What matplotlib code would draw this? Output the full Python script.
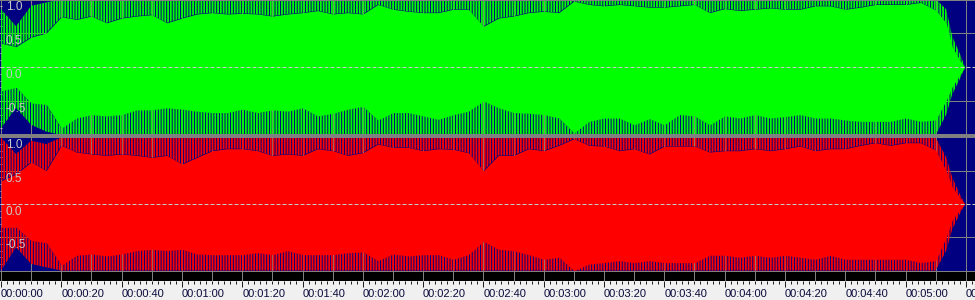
import matplotlib
matplotlib.use("Agg")
import matplotlib.pyplot as plt
from matplotlib.ticker import MultipleLocator, FixedLocator, NullFormatter

plt.rcParams["font.family"] = ["Liberation Sans", "DejaVu Sans"]
plt.rcParams["hatch.linewidth"] = 1.3

# sample times of the envelope readings (seconds)
TIME_S = list(range(0, 315, 5)) + [313.5, 315.5, 318, 319.7]

# left channel (green): solid body of the waveform
GREEN_HI = [0.35, 0.30, 0.44, 0.50, 0.74, 0.70, 0.75, 0.65, 0.72, 0.75,
            0.77, 0.65, 0.72, 0.78, 0.80, 0.78, 0.79, 0.78, 0.75, 0.78,
            0.80, 0.83, 0.78, 0.80, 0.78, 0.92, 0.85, 0.82, 0.80, 0.80,
            0.85, 0.85, 0.60, 0.72, 0.75, 0.80, 0.82, 0.80, 0.97, 0.92,
            0.90, 0.92, 0.90, 0.88, 0.88, 0.90, 0.92, 0.80, 0.86, 0.83,
            0.85, 0.87, 0.85, 0.85, 0.90, 0.90, 0.85, 0.88, 0.92, 0.92,
            0.92, 0.95, 0.84, 0.65, 0.30, 0.10, 0.0]
GREEN_LO = [-0.35, -0.30, -0.53, -0.55, -0.90, -0.75, -0.70, -0.72, -0.70, -0.63,
            -0.63, -0.60, -0.62, -0.65, -0.67, -0.67, -0.62, -0.67, -0.63, -0.65,
            -0.60, -0.72, -0.68, -0.62, -0.58, -0.78, -0.67, -0.67, -0.72, -0.77,
            -0.70, -0.65, -0.50, -0.60, -0.67, -0.68, -0.70, -0.75, -0.97, -0.80,
            -0.75, -0.75, -0.85, -0.76, -0.85, -0.70, -0.72, -0.85, -0.72, -0.75,
            -0.70, -0.75, -0.73, -0.70, -0.75, -0.75, -0.78, -0.80, -0.80, -0.80,
            -0.75, -0.80, -0.78, -0.49, -0.29, -0.12, 0.0]
# peaks reached by the spikes (clipped at +-1 for most of the track)
GREEN_PEAK_HI = [0.85, 0.60, 0.90, 0.95] + [1.0] * 59 + [0.85, 0.45, 0.20, 0.0]
GREEN_PEAK_LO = [-0.90, -0.60, -0.85, -0.95] + [-1.0] * 59 + [-0.70, -0.40, -0.18, 0.0]

# right channel (red)
RED_HI = [0.35, 0.45, 0.63, 0.50, 0.88, 0.78, 0.75, 0.73, 0.75, 0.73,
          0.70, 0.73, 0.60, 0.70, 0.80, 0.83, 0.83, 0.80, 0.73, 0.75,
          0.73, 0.83, 0.80, 0.73, 0.77, 0.90, 0.85, 0.85, 0.80, 0.83,
          0.82, 0.77, 0.50, 0.73, 0.73, 0.83, 0.80, 0.88, 0.98, 0.88,
          0.87, 0.80, 0.83, 0.75, 0.87, 0.87, 0.87, 0.78, 0.80, 0.80,
          0.83, 0.80, 0.83, 0.87, 0.80, 0.83, 0.83, 0.88, 0.92, 0.88,
          0.92, 0.92, 0.81, 0.50, 0.26, 0.10, 0.0]
RED_LO = [-0.35, -0.35, -0.55, -0.58, -0.92, -0.77, -0.75, -0.78, -0.75, -0.70,
          -0.68, -0.70, -0.68, -0.75, -0.76, -0.76, -0.76, -0.73, -0.76, -0.70,
          -0.76, -0.76, -0.76, -0.73, -0.72, -0.85, -0.75, -0.78, -0.76, -0.76,
          -0.83, -0.76, -0.56, -0.68, -0.70, -0.76, -0.83, -0.80, -1.00, -0.90,
          -0.88, -0.85, -0.88, -0.85, -0.88, -0.88, -0.88, -0.77, -0.77, -0.80,
          -0.77, -0.80, -0.77, -0.80, -0.83, -0.77, -0.83, -0.83, -0.83, -0.83,
          -0.83, -0.88, -0.85, -0.50, -0.24, -0.09, 0.0]
RED_PEAK_HI = [1.0, 0.75, 0.95, 0.90] + [1.0] * 59 + [0.70, 0.40, 0.15, 0.0]
RED_PEAK_LO = [-1.0, -0.65, -0.90, -0.95] + [-1.0] * 59 + [-0.70, -0.38, -0.15, 0.0]

LEVEL_LABELS = ["1.0", "0.5", "0.0", "-0.5"]
LEVEL_VALUES = [1.0, 0.5, 0.0, -0.5]

LABEL_TIMES_S = [0, 20, 40, 60, 80, 100, 120, 140, 160, 180, 200, 220,
                 240, 260, 280, 300, 320]
TIME_LABELS = ["00:00:00", "00:00:20", "00:00:40", "00:01:00", "00:01:20",
               "00:01:40", "00:02:00", "00:02:20", "00:02:40", "00:03:00",
               "00:03:20", "00:03:40", "00:04:00", "00:04:20", "00:04:40",
               "00:05:00", "00:05:20"]

W, H = 975, 300
PX = 72 / 100  # points per pixel
NAVY = "#000080"
GRID = "#808080"
XLIM = (-1 / 3.015, 974 / 3.015)


def rect(top, bottom):
    return [0, 1 - bottom / H, 1, (bottom - top) / H]


def wave_panel(fig, top, bottom, ylim, hi, lo, peak_hi, peak_lo, color):
    ax = fig.add_axes(rect(top, bottom))
    ax.set_facecolor(NAVY)
    ax.set_xlim(*XLIM)
    ax.set_ylim(*ylim)
    for s in ax.spines.values():
        s.set_visible(False)
    ax.xaxis.set_major_locator(MultipleLocator(10))
    ax.xaxis.set_major_formatter(NullFormatter())
    ax.set_yticks([-0.5, 0.5])
    ax.yaxis.set_major_formatter(NullFormatter())
    ax.yaxis.set_minor_locator(MultipleLocator(0.1))
    ax.tick_params(axis="x", length=0)
    ax.tick_params(axis="y", which="both", direction="in", length=1.6,
                   width=PX, color="#c0c0c0", pad=0)
    ax.grid(True, which="major", color=GRID, lw=PX)
    ax.set_axisbelow(True)
    # spiky fringe between the solid body and the peaks
    ax.fill_between(TIME_S, hi, peak_hi, facecolor="none", edgecolor=color,
                    hatch="||||||", lw=0, zorder=2)
    ax.fill_between(TIME_S, peak_lo, lo, facecolor="none", edgecolor=color,
                    hatch="||||||", lw=0, zorder=2)
    ax.fill_between(TIME_S, lo, hi, color=color, lw=0, zorder=2)
    ax.axhline(0, color="#c8c8c8", lw=PX, ls=(0, (4, 2)), zorder=3)
    for lbl, v in zip(LEVEL_LABELS, LEVEL_VALUES):
        ax.annotate(lbl, xy=(0, v), xycoords=("axes fraction", "data"),
                    xytext=(6 * PX, -2 * PX), textcoords="offset points",
                    ha="left", va="top", fontsize=8.5, color="#c8c8c8",
                    annotation_clip=False, zorder=4)
    return ax


def main():
    fig = plt.figure(figsize=(W / 100, H / 100), dpi=100)
    fig.patch.set_facecolor(GRID)

    wave_panel(fig, 1, 133.5, (-0.978, 0.971), GREEN_HI, GREEN_LO,
               GREEN_PEAK_HI, GREEN_PEAK_LO, "#00ff00")
    wave_panel(fig, 137.5, 270.5, (-0.998, 0.998), RED_HI, RED_LO,
               RED_PEAK_HI, RED_PEAK_LO, "#ff0000")

    # thin white rule under the bottom panel
    ax_w = fig.add_axes(rect(270.5, 272))
    ax_w.set_facecolor("#f4f4f4")
    ax_w.axis("off")
    ax_w.patch.set_visible(True)

    # black band with the time grid
    ax_b = fig.add_axes(rect(272, 281))
    ax_b.set_facecolor("black")
    ax_b.set_xlim(*XLIM)
    for s in ax_b.spines.values():
        s.set_visible(False)
    ax_b.xaxis.set_major_locator(MultipleLocator(10))
    ax_b.xaxis.set_major_formatter(NullFormatter())
    ax_b.set_yticks([])
    ax_b.tick_params(axis="x", length=0)
    ax_b.grid(True, axis="x", color=GRID, lw=PX)

    # time ruler
    ax_r = fig.add_axes(rect(281, 300))
    ax_r.set_facecolor("#f0f0f0")
    ax_r.set_xlim(*XLIM)
    ax_r.set_ylim(0, 1)
    for s in ax_r.spines.values():
        s.set_visible(False)
    ax_r.set_yticks([])
    ax_r.xaxis.set_ticks_position("top")
    ax_r.xaxis.set_major_locator(FixedLocator(LABEL_TIMES_S))
    ax_r.xaxis.set_minor_locator(MultipleLocator(2))
    ax_r.xaxis.set_major_formatter(NullFormatter())
    ax_r.tick_params(axis="x", which="major", direction="in", length=6 * PX,
                     width=PX, color="#202020")
    ax_r.tick_params(axis="x", which="minor", direction="in", length=3 * PX,
                     width=PX, color="#202020")
    for t, lbl in zip(LABEL_TIMES_S, TIME_LABELS):
        ax_r.text(t, 3 / 19, lbl, ha="left", va="baseline", fontsize=8,
                  color="#0a0a3c", clip_on=False)

    fig.savefig("out.png", dpi=100, facecolor=fig.get_facecolor())
    plt.close(fig)


if __name__ == "__main__":
    main()
